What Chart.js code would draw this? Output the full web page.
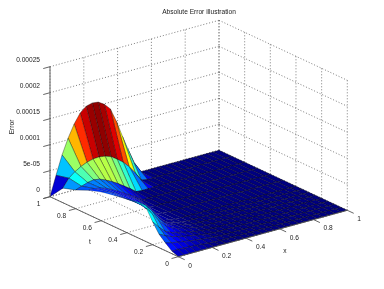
<!DOCTYPE html>
<html>
<head>
<meta charset="utf-8">
<title>Absolute Error illustration</title>
<script src="https://cdn.jsdelivr.net/npm/chart.js@4"></script>
<style>
    html, body { margin: 0; padding: 0; background: #fff; }
    canvas { display: block; filter: blur(0.35px); }
</style>
</head>
<body>
<canvas id="surfaceChart" width="384" height="289"></canvas>
<script>
// Tick values and labels
const xTicks = [0, 0.2, 0.4, 0.6, 0.8, 1];
const tTicks = [0, 0.2, 0.4, 0.6, 0.8, 1];
const zTicks = [0, 0.00005, 0.0001, 0.00015, 0.0002, 0.00025];
const zTickLabels = ['0', '5e-05', '0.0001', '0.00015', '0.0002', '0.00025'];

// Mesh: 29 x positions (step 1/28), rows of t listed back to front
const xCount = 29;
const tGrid = [1, 0.9, 0.8, 0.7, 0.6, 0.5, 0.4, 0.35, 0.3, 0.25, 0.2, 0.15, 0.1, 0.05, 0];

// Error per row in units of 1e-5. Cut short where it reaches the flat part
const errT100 = [0, 3.8, 7.4, 10.3, 12.7, 14.5, 15.5, 15.8, 15.65, 14.9, 13.7, 11, 7.8, 4.8, 2];
const errT090 = [2.8, 4.4, 5.3, 6, 6.5, 6.8, 6.9, 6.7, 6.3, 5.5, 4.6, 3.4, 1.9, 0.2];
const errT080 = [3.6, 4, 4.4, 4.6, 4.4, 3.9, 3.3, 2.6, 1.8, 1, 0.1];
const errT070 = [4.7, 4.7, 4.5, 4.1, 3.5, 2.9, 2.2, 1.5, 0.8];
const errT060 = [5.5, 5.2, 4.7, 4.1, 3.5, 2.8, 2.1, 1.2, 0.1];
const errT050 = [6, 5.4, 4.7, 4, 3.3, 2.4, 1.4, 0.3, 0.1];
const errT040 = [6.5, 5.8, 5, 4, 2.7, 1.5, 0.5, 0.3, 0.1];
const errT035 = [6.7, 5.8, 4.7, 3.4, 2.1, 1.1, 0.6, 0.3, 0.1];
const errT030 = [6.9, 6, 4.7, 3.2, 1.9, 1.1, 0.7, 0.4, 0.2];
const errT025 = [6.5, 5, 3.5, 2.3, 1.5, 1, 0.7, 0.4, 0.2];
const errT020 = [4.4, 3.1, 2, 1.4, 1.1, 0.8, 0.6, 0.3, 0.2];
const errT015 = [2.6, 2, 1.5, 1.2, 0.9, 0.7, 0.5, 0.3, 0.1];
const errT010 = [1.5, 1.2, 1, 0.8, 0.6, 0.45, 0.3, 0.2, 0.1];
const errT005 = [0.5, 0.5, 0.45, 0.4, 0.3, 0.2, 0.1];
const errT000 = [0];
const errorRows = [errT100, errT090, errT080, errT070, errT060, errT050, errT040, errT035,
    errT030, errT025, errT020, errT015, errT010, errT005, errT000];

// Colour data follows the error, scaled row by row to what the picture shows
const rowColorScale = [1, 1.3, 0.9, 0.6, 0.6, 0.65, 0.75, 0.85, 0.95, 1, 1.1, 1.3, 1.6, 2.2, 1];
const colorMax = 16;

// The middle rows fold almost edge-on, their mesh lines are kept faint there
const rowLineAlpha = [0.62, 0.62, 0.62, 0.28, 0.18, 0.18, 0.22, 0.28, 0.38, 0.5, 0.62, 0.62, 0.62, 0.62, 0.62];

// Box projection (orthographic), in canvas pixels
const origin = { x: 178.3, y: 256.7 };
const xAxisVec = { x: 169, y: -46.4 };
const tAxisVec = { x: -128.3, y: -60 };
const zPerUnit = 520000;

function project(x, t, z) {
    return {
        x: origin.x + x * xAxisVec.x + t * tAxisVec.x,
        y: origin.y + x * xAxisVec.y + t * tAxisVec.y - z * zPerUnit
    };
}

/**
 * Jet colormap, level in 0..1
 */
function jet(level) {
    const v = Math.min(1, Math.max(0, level));
    const ramp = c => Math.round(255 * Math.min(1, Math.max(0, 1.5 - Math.abs(4 * v - c))));
    return `rgb(${ramp(3)},${ramp(2)},${ramp(1)})`;
}

function lineDataset(points, color, width, dash) {
    return {
        type: 'scatter',
        showLine: true,
        data: points,
        borderColor: color,
        borderWidth: width,
        borderDash: dash || [],
        pointRadius: 0,
        fill: false,
        clip: false
    };
}

/**
 * Dotted grid on the floor and the two back walls
 */
function gridDatasets() {
    const sets = [];
    const zTop = zTicks[zTicks.length - 1];
    const dotted = (a, b) => sets.push(lineDataset([a, b], '#5c5c5c', 0.8, [1, 2]));

    xTicks.forEach(x => {
        dotted(project(x, 0, 0), project(x, 1, 0));
        dotted(project(x, 1, 0), project(x, 1, zTop));
    });
    tTicks.forEach(t => {
        dotted(project(0, t, 0), project(1, t, 0));
        dotted(project(1, t, 0), project(1, t, zTop));
    });
    zTicks.forEach(z => {
        dotted(project(0, 1, z), project(1, 1, z));
        dotted(project(1, 1, z), project(1, 0, z));
    });
    return sets;
}

/**
 * Axis lines and tick marks
 */
function axisDatasets() {
    const sets = [];
    const solid = (a, b) => sets.push(lineDataset([a, b], '#555', 0.9));
    const zTop = zTicks[zTicks.length - 1];

    solid(project(0, 0, 0), project(1, 0, 0));
    solid(project(0, 0, 0), project(0, 1, 0));
    solid(project(0, 1, 0), project(0, 1, zTop));

    xTicks.forEach(x => solid(project(x, 0, 0), project(x, -0.05, 0)));
    tTicks.forEach(t => solid(project(0, t, 0), project(-0.04, t, 0)));
    zTicks.forEach(z => solid(project(0, 1, z), project(-0.04, 1, z)));
    return sets;
}

/**
 * One filled dataset per mesh cell, painted from the back corner to the front
 */
function surfaceDatasets() {
    const sets = [];
    const zAt = (row, i) => (errorRows[row][i] || 0) * 1e-5;
    const vertex = (row, i) => project(i / (xCount - 1), tGrid[row], zAt(row, i));

    for (let row = 0; row < tGrid.length - 1; row++) {
        for (let i = xCount - 2; i >= 0; i--) {
            const corner = vertex(row, i);
            const c = 0.65 * zAt(row, i) + 0.35 * zAt(row, i + 1);
            const alpha = c > 0 ? rowLineAlpha[row] : 0.62;
            sets.push({
                type: 'scatter',
                showLine: true,
                data: [corner, vertex(row, i + 1), vertex(row + 1, i + 1), vertex(row + 1, i), corner],
                backgroundColor: jet(c * 1e5 * rowColorScale[row] / colorMax),
                borderColor: `rgba(0,0,0,${alpha})`,
                borderWidth: 0.55,
                pointRadius: 0,
                fill: 'shape',
                clip: false
            });
        }
    }
    return sets;
}

// Text is not part of the library's 3D-less axes, so it is placed from the same projection
const axisTextPlugin = {
    id: 'axisText',
    afterDraw(chart) {
        const { ctx, scales } = chart;
        const place = (text, p, dx, dy, align) => {
            ctx.textAlign = align;
            ctx.fillText(text, scales.x.getPixelForValue(p.x) + dx, scales.y.getPixelForValue(p.y) + dy);
        };

        ctx.save();
        ctx.font = '6.6px "Liberation Sans", Arial, sans-serif';
        ctx.fillStyle = '#222';
        ctx.textBaseline = 'middle';

        xTicks.forEach(x => place(String(x), project(x, 0, 0), 10, 9, 'left'));
        tTicks.forEach(t => place(String(t), project(0, t, 0), -9.5, 7, 'right'));
        zTicks.forEach((z, n) => place(zTickLabels[n], project(0, 1, z), -10, -6.5, 'right'));

        place('x', { x: 285, y: 251 }, 0, 0, 'center');
        place('t', { x: 90, y: 242 }, 0, 0, 'center');
        place('Absolute Error illustration', { x: 199, y: 12.5 }, 0, 0, 'center');

        ctx.translate(12, 127);
        ctx.rotate(-Math.PI / 2);
        ctx.textAlign = 'center';
        ctx.fillText('Error', 0, 0);
        ctx.restore();
    }
};

/**
 * Build the chart. The first dataset is drawn last, so the painting order is reversed
 */
function init() {
    const painted = [...gridDatasets(), ...surfaceDatasets(), ...axisDatasets()];

    new Chart(document.getElementById('surfaceChart'), {
        type: 'scatter',
        data: { datasets: painted.reverse() },
        options: {
            responsive: false,
            animation: false,
            layout: { padding: 0 },
            plugins: {
                legend: { display: false },
                title: { display: false },
                tooltip: { enabled: false }
            },
            scales: {
                x: { type: 'linear', min: 0, max: 384, display: false },
                y: { type: 'linear', min: 0, max: 289, reverse: true, display: false }
            }
        },
        plugins: [axisTextPlugin]
    });
}

init();
</script>
</body>
</html>
